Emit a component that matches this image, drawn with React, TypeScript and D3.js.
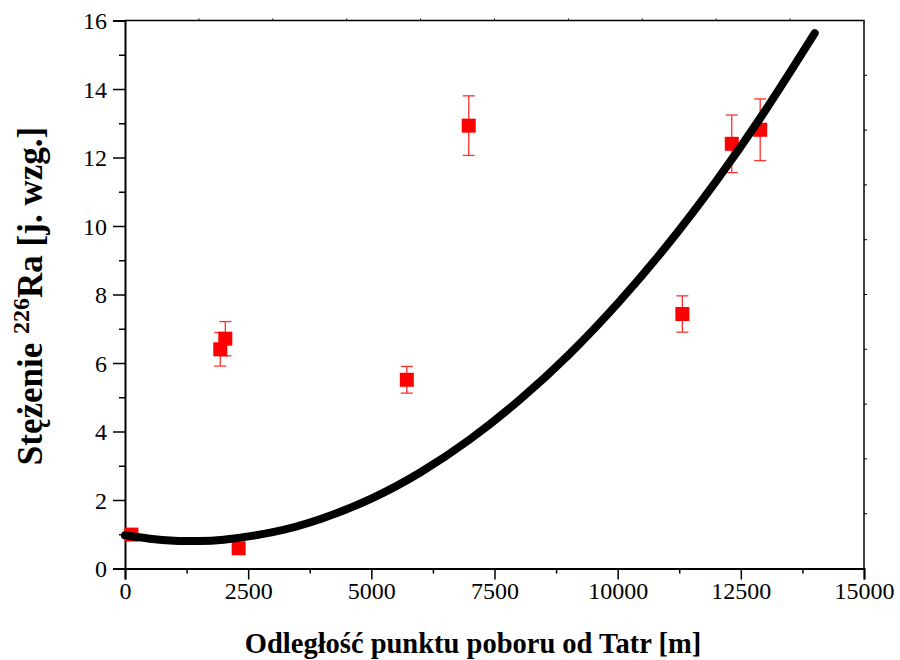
import React, { useEffect, useRef } from "react";
import * as d3 from "d3";

// measured samples (distance from Tatra [m], Ra-226 concentration, error)
const distances = [130, 1934, 2036, 2307, 5720, 6977, 11313, 12316, 12893];
const concentrations = [0.99, 6.4, 6.71, 0.59, 5.51, 12.93, 7.43, 12.4, 12.81];
const errors = [0.12, 0.49, 0.5, 0.05, 0.39, 0.87, 0.53, 0.84, 0.9];

// fitted curve
const fitX = [0, 500, 1000, 1500, 2000, 3000, 4000, 5000, 6000, 7000, 8000, 9000, 10000, 11000, 12000, 13000, 14000];
const fitY = [0.97, 0.87, 0.81, 0.8, 0.84, 1.06, 1.46, 2.04, 2.81, 3.77, 4.91, 6.23, 7.74, 9.43, 11.31, 13.38, 15.63];

const xTicks = [0, 2500, 5000, 7500, 10000, 12500, 15000];
const yTicks = [0, 2, 4, 6, 8, 10, 12, 14, 16];

const W = 900, H = 660;
const left = 125, right = 864, top = 20.5, bottom = 568.5;
const FONT = "Liberation Serif, Times New Roman, DejaVu Serif, serif";

export default function App() {
    const ref = useRef<SVGSVGElement>(null);

    useEffect(() => {
        const svg = d3.select(ref.current);
        svg.selectAll("*").remove();

        const x = d3.scaleLinear().domain([0, 15000]).range([left, right]);
        const y = d3.scaleLinear().domain([0, 16]).range([bottom, top]);

        svg.append("rect").attr("width", W).attr("height", H).attr("fill", "#fff");

        // frame: top and right
        svg.append("path")
            .attr("d", `M${left},${top}H${right}V${bottom}`)
            .attr("fill", "none")
            .attr("stroke", "#000")
            .attr("stroke-width", 1.5);

        // small secondary ticks on top / right
        const topTicks = d3.range(1500, 15000, 1500);
        svg.append("g").selectAll("line").data(topTicks).join("line")
            .attr("x1", d => x(d)).attr("x2", d => x(d))
            .attr("y1", top).attr("y2", top - 2)
            .attr("stroke", "#000").attr("stroke-width", 1);
        const rightTicks = d3.range(1.6, 16, 1.6);
        svg.append("g").selectAll("line").data(rightTicks).join("line")
            .attr("x1", right).attr("x2", right + 3)
            .attr("y1", d => y(d)).attr("y2", d => y(d))
            .attr("stroke", "#000").attr("stroke-width", 1);

        // minor ticks
        const xMinor = svg.append("g")
            .attr("transform", `translate(0,${bottom})`)
            .call(d3.axisBottom(x).tickValues(d3.range(1250, 15000, 2500)).tickSize(5).tickFormat(() => ""));
        const yMinor = svg.append("g")
            .attr("transform", `translate(${left},0)`)
            .call(d3.axisLeft(y).tickValues(d3.range(1, 16, 2)).tickSize(6).tickFormat(() => ""));
        [xMinor, yMinor].forEach(g => {
            g.select(".domain").remove();
            g.selectAll("line").attr("stroke-width", 1.5);
        });

        // major axes
        const xAxis = svg.append("g")
            .attr("transform", `translate(0,${bottom})`)
            .call(d3.axisBottom(x).tickValues(xTicks).tickSize(11).tickPadding(7).tickFormat(d3.format("d")));
        const yAxis = svg.append("g")
            .attr("transform", `translate(${left},0)`)
            .call(d3.axisLeft(y).tickValues(yTicks).tickSize(12).tickPadding(6).tickFormat(d3.format("d")));
        [xAxis, yAxis].forEach(g => {
            g.attr("font-family", null).attr("font-size", null);
            g.select(".domain").attr("stroke-width", 2);
            g.selectAll("line").attr("stroke-width", 1.5);
            g.selectAll("text")
                .style("font-family", FONT)
                .style("font-size", "24px")
                .attr("fill", "#000");
        });
        xAxis.selectAll("text").attr("dy", "0.95em").attr("y", 8);
        yAxis.selectAll("text").attr("dy", "0.35em");

        // error bars
        const eb = svg.append("g")
            .attr("stroke", "#ff3030")
            .attr("stroke-width", 1.3);
        distances.forEach((d, i) => {
            const cx = x(d);
            const lo = y(concentrations[i] - errors[i]);
            const hi = y(concentrations[i] + errors[i]);
            eb.append("line").attr("x1", cx).attr("x2", cx).attr("y1", lo).attr("y2", hi);
            eb.append("line").attr("x1", cx - 6).attr("x2", cx + 6).attr("y1", lo).attr("y2", lo);
            eb.append("line").attr("x1", cx - 6).attr("x2", cx + 6).attr("y1", hi).attr("y2", hi);
        });

        // markers
        svg.append("g").selectAll("rect")
            .data(distances)
            .join("rect")
            .attr("x", d => x(d) - 7)
            .attr("y", (d, i) => y(concentrations[i]) - 7)
            .attr("width", 14)
            .attr("height", 14)
            .attr("fill", "#ff0000");

        // fit curve on top
        const line = d3.line<number>()
            .x(d => x(d))
            .y((d, i) => y(fitY[i]))
            .curve(d3.curveNatural);
        svg.append("path")
            .datum(fitX)
            .attr("d", line)
            .attr("fill", "none")
            .attr("stroke", "#000")
            .attr("stroke-width", 8)
            .attr("stroke-linecap", "round");

        // axis titles
        svg.append("text")
            .attr("x", 473)
            .attr("y", 653)
            .attr("text-anchor", "middle")
            .style("font-family", FONT)
            .style("font-weight", "bold")
            .style("font-size", "28.5px")
            .text("Odległość punktu poboru od Tatr [m]");

        const yt = svg.append("text")
            .attr("transform", `translate(42,296) rotate(-90)`)
            .attr("text-anchor", "middle")
            .style("font-family", FONT)
            .style("font-weight", "bold")
            .style("font-size", "35px");
        yt.append("tspan").text("Stężenie ");
        yt.append("tspan").style("font-size", "24px").attr("dy", -13).text("226");
        yt.append("tspan").attr("dy", 13).text("Ra [j. wzg.]");
    }, []);

    return (
        <svg
            ref={ref}
            width={W}
            height={H}
            style={{ position: "absolute", left: 0, top: 0, display: "block" }}
        />
    );
}
